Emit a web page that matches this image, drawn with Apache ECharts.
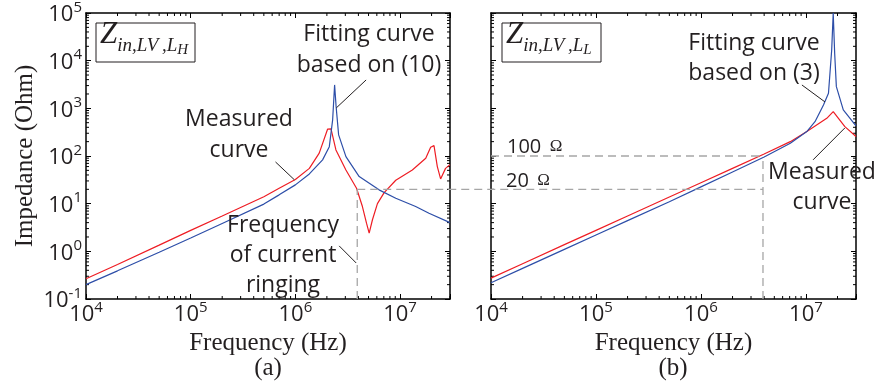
<!DOCTYPE html>
<html>
<head>
<meta charset="utf-8">
<script src="https://cdn.jsdelivr.net/npm/echarts@6.0.0/dist/echarts.min.js"></script>
<style>
  html, body { margin: 0; padding: 0; background: #fff; }
  #main { width: 877px; height: 381px; }
</style>
</head>
<body>
<div id="main"></div>
<script>
// (a) measured (red) and fitted (blue, eq. 10)
const leftMeasuredFreq = [1e4, 2e4, 5e4, 1e5, 2e5, 5e5, 7e5, 1e6, 1.36e6, 1.69e6, 2.03e6, 2.19e6, 2.44e6, 3.04e6, 3.84e6, 4.37e6, 4.78e6, 5.07e6, 5.45e6, 6.08e6, 7.05e6, 9.1e6, 1.31e7, 1.76e7, 1.96e7, 2.11e7, 2.27e7, 2.44e7, 2.72e7, 3e7];
const leftMeasured = [0.265, 0.53, 1.35, 2.75, 5.5, 14, 21, 32, 55, 115, 365, 370, 134, 51, 21, 8.7, 3.9, 2.4, 4.6, 10, 17, 31, 51, 90, 153, 165, 60, 33, 55, 66];
const leftFittedFreq = [1e4, 2e4, 5e4, 1e5, 2e5, 5e5, 7e5, 1e6, 1.36e6, 1.82e6, 2.11e6, 2.27e6, 2.37e6, 2.45e6, 2.59e6, 3.04e6, 4.07e6, 6.3e6, 9.1e6, 1.41e7, 1.89e7, 3e7];
const leftFitted = [0.2, 0.39, 0.96, 1.9, 3.85, 9.8, 15.3, 24.8, 42, 83, 157, 571, 3100, 1090, 277, 97, 37, 19.5, 13, 8.7, 6.3, 4.0];

// (b) measured (red) and fitted (blue, eq. 3)
const rightMeasuredFreq = [1e4, 2e4, 5e4, 1e5, 2e5, 5e5, 1e6, 2e6, 4e6, 7.1e6, 1.02e7, 1.58e7, 1.82e7, 2.35e7, 3e7];
const rightMeasured = [0.274, 0.55, 1.38, 2.75, 5.5, 13.8, 27.5, 55, 110, 200, 325, 617, 850, 413, 257];
const rightFittedFreq = [1e4, 2e4, 5e4, 1e5, 2e5, 5e5, 1e6, 2e6, 4e6, 7.1e6, 1.02e7, 1.22e7, 1.47e7, 1.64e7, 1.76e7, 1.82e7, 1.88e7, 1.95e7, 2.27e7, 3e7];
const rightFitted = [0.22, 0.44, 1.1, 2.2, 4.4, 11, 22.5, 46, 95, 185, 325, 525, 1175, 2075, 16750, 100000, 14000, 2850, 925, 430];

// axis ranges and reference levels
const xRange = [1e4, 3e7];
const yRange = [1e-1, 1e5];
const ringingFreq = 3.9e6;
const level20 = 20;
const level100 = 100;
const minorMul = [2, 3, 4, 5, 6, 7, 8, 9];
const xDecades = [1e4, 1e5, 1e6, 1e7];
const yDecades = [1e-1, 1, 10, 100, 1e3, 1e4];

const RED = '#ee1d24';
const BLUE = '#2d4ea8';
const TXT = '#231f20';
const SANS = '"Open Sans", sans-serif';
const SERIF = '"Liberation Serif", "Times New Roman", serif';

const xMinor = [];
xDecades.forEach(d => minorMul.forEach(m => { if (d * m <= xRange[1]) xMinor.push(d * m); }));
const yMinor = [];
yDecades.forEach(d => minorMul.forEach(m => yMinor.push(d * m)));

function pairs(xs, ys) { return xs.map((x, i) => [x, ys[i]]); }

function powLabel(v) {
  const l = Math.log10(v);
  const e = Math.round(l);
  if (Math.abs(l - e) > 1e-6) return '';
  return '{b|10}{s|' + e + '}';
}
const powRich = {
  b: { fontFamily: SANS, fontSize: 22, color: TXT, lineHeight: 26, verticalAlign: 'bottom' },
  s: { fontFamily: SANS, fontSize: 15, color: TXT, lineHeight: 15, verticalAlign: 'top' }
};

const chart = echarts.init(document.getElementById('main'), null, { renderer: 'canvas' });

function xAxisOf(grid, pos, labels) {
  return {
    type: 'log', logBase: 10, gridIndex: grid, position: pos,
    min: xRange[0], max: xRange[1],
    axisLine: { show: true, onZero: false, lineStyle: { color: '#000', width: 1.5 } },
    axisTick: { show: true, inside: true, length: 5, lineStyle: { color: '#000', width: 1 } },
    splitLine: { show: false },
    axisLabel: labels ? { show: true, formatter: powLabel, rich: powRich, margin: 1, showMinLabel: true, showMaxLabel: true, hideOverlap: false } : { show: false },
    name: labels ? 'Frequency (Hz)' : '',
    nameLocation: 'middle', nameGap: 31,
    nameTextStyle: { fontFamily: SERIF, fontSize: 25, color: TXT }
  };
}
function yAxisOf(grid, pos, labels) {
  return {
    type: 'log', logBase: 10, gridIndex: grid, position: pos,
    min: yRange[0], max: yRange[1],
    axisLine: { show: true, onZero: false, lineStyle: { color: '#000', width: 1.5 } },
    axisTick: { show: true, inside: true, length: 5, lineStyle: { color: '#000', width: 1 } },
    splitLine: { show: false },
    axisLabel: labels ? { show: true, formatter: powLabel, rich: powRich, margin: 4, showMinLabel: true, showMaxLabel: true, hideOverlap: false } : { show: false },
    name: labels ? 'Impedance (Ohm)' : '',
    nameLocation: 'middle', nameGap: 48,
    nameTextStyle: { fontFamily: SERIF, fontSize: 25, color: TXT }
  };
}

function minorSeries(xi, yi, vals, dir) {
  return {
    type: 'custom', xAxisIndex: xi, yAxisIndex: yi, silent: true, z: 3,
    data: vals.map(v => dir === 'x' ? [v, yRange[0]] : [xRange[0], v]),
    renderItem: function (params, api) {
      const len = 3;
      const st = { stroke: '#000', lineWidth: 1 };
      if (dir === 'x') {
        const v = api.value(0);
        const b = api.coord([v, yRange[0]]);
        const t = api.coord([v, yRange[1]]);
        return { type: 'group', children: [
          { type: 'line', shape: { x1: b[0], y1: b[1], x2: b[0], y2: b[1] - len }, style: st },
          { type: 'line', shape: { x1: t[0], y1: t[1], x2: t[0], y2: t[1] + len }, style: st }
        ] };
      }
      const v = api.value(1);
      const l = api.coord([xRange[0], v]);
      const r = api.coord([xRange[1], v]);
      return { type: 'group', children: [
        { type: 'line', shape: { x1: l[0], y1: l[1], x2: l[0] + len, y2: l[1] }, style: st },
        { type: 'line', shape: { x1: r[0], y1: r[1], x2: r[0] - len, y2: r[1] }, style: st }
      ] };
    }
  };
}

function lineSeries(xi, yi, data, color) {
  return {
    type: 'line', xAxisIndex: xi, yAxisIndex: yi, data: data,
    showSymbol: false, symbol: 'none', smooth: false, silent: true, z: 4,
    lineStyle: { color: color, width: 1.2 }
  };
}

chart.setOption({
  animation: false,
  backgroundColor: '#fff',
  grid: [
    { left: 86, top: 13, width: 364, height: 286 },
    { left: 491, top: 13, width: 365, height: 286 }
  ],
  xAxis: [xAxisOf(0, 'bottom', true), xAxisOf(1, 'bottom', true), xAxisOf(0, 'top', false), xAxisOf(1, 'top', false)],
  yAxis: [yAxisOf(0, 'left', true), yAxisOf(1, 'left', false), yAxisOf(0, 'right', false), yAxisOf(1, 'right', false)],
  series: [
    lineSeries(0, 0, pairs(leftMeasuredFreq, leftMeasured), RED),
    lineSeries(0, 0, pairs(leftFittedFreq, leftFitted), BLUE),
    lineSeries(1, 1, pairs(rightMeasuredFreq, rightMeasured), RED),
    lineSeries(1, 1, pairs(rightFittedFreq, rightFitted), BLUE),
    minorSeries(0, 0, xMinor, 'x'),
    minorSeries(0, 0, yMinor, 'y'),
    minorSeries(1, 1, xMinor, 'x'),
    minorSeries(1, 1, yMinor, 'y')
  ]
});

// annotations, placed through the axes of each panel
const pA = v => chart.convertToPixel({ seriesIndex: 0 }, v);
const pB = v => chart.convertToPixel({ seriesIndex: 2 }, v);

const dash = { stroke: '#a6a6a6', lineWidth: 1.3, lineDash: [8, 5] };
const lead = { stroke: '#231f20', lineWidth: 1 };
function seg(a, b, style) {
  return { type: 'line', z: 10, shape: { x1: a[0], y1: a[1], x2: b[0], y2: b[1] }, style: style };
}
function label(x, y, text, size, family, extra) {
  return { type: 'text', z: 12, x: x, y: y, style: Object.assign({
    text: text, fontFamily: family || SANS, fontSize: size || 21, fill: TXT,
    align: 'center', verticalAlign: 'middle'
  }, extra || {}) };
}
function titleBox(x, y, sub) {
  const f = { fontFamily: SERIF, fontStyle: 'italic', fill: TXT, color: TXT };
  return [
    { type: 'rect', z: 11, shape: { x: x, y: y, width: 99, height: 39 }, style: { fill: '#fff', stroke: '#231f20', lineWidth: 1 } },
    { type: 'text', z: 12, x: x + 4, y: y + 19, style: {
      text: '{z|Z}{s|in,LV\u2009,L}{h|' + sub + '}', align: 'left', verticalAlign: 'middle',
      rich: {
        z: Object.assign({ fontSize: 31, lineHeight: 32, verticalAlign: 'bottom', padding: [0, 0, 8, 0] }, f),
        s: Object.assign({ fontSize: 19, lineHeight: 20, verticalAlign: 'bottom', padding: [0, 0, 3, 0] }, f),
        h: Object.assign({ fontSize: 15, lineHeight: 16, verticalAlign: 'bottom' }, f)
      }
    } }
  ];
}

const g = [];
// dashed reference lines
g.push(seg(pA([ringingFreq, yRange[0]]), pA([ringingFreq, level20]), dash));
g.push(seg(pA([ringingFreq, level20]), pB([ringingFreq, level20]), dash));
g.push(seg(pB([xRange[0], level100]), pB([ringingFreq, level100]), dash));
g.push(seg(pB([ringingFreq, yRange[0]]), pB([ringingFreq, level100]), dash));
// leader lines
g.push(seg(pA([4.74e6, 3940]), pA([2.46e6, 1020]), lead));
g.push(seg(pA([6.46e5, 75]), pA([9.8e5, 31.6]), lead));
g.push(seg(pA([2.62e6, 1.3]), pA([3.81e6, 0.57]), lead));
g.push(seg(pB([9.16e6, 3090]), pB([1.52e7, 1360]), lead));
g.push(seg(pB([1.17e7, 83]), pB([2.35e7, 388]), lead));
// texts
g.push(label(369, 50, 'Fitting curve\nbased on (10)', 23, SANS, { lineHeight: 31 }));
g.push(label(239, 135, 'Measured\ncurve', 23, SANS, { lineHeight: 31 }));
g.push(label(283, 255, 'Frequency\nof current\nringing', 23, SANS, { lineHeight: 30 }));
g.push(label(754, 58, 'Fitting curve\nbased on (3)', 23, SANS, { lineHeight: 30 }));
g.push(label(822, 187, 'Measured\ncurve', 23, SANS, { lineHeight: 30 }));
g.push(label(507, 147, '{n|100}{o|  Ω}', 20, SANS, { align: 'left', rich: {
  n: { fontFamily: SANS, fontSize: 20, color: TXT }, o: { fontFamily: SERIF, fontSize: 17, color: TXT } } }));
g.push(label(506, 181, '{n|20}{o|  Ω}', 20, SANS, { align: 'left', rich: {
  n: { fontFamily: SANS, fontSize: 20, color: TXT }, o: { fontFamily: SERIF, fontSize: 17, color: TXT } } }));
g.push(label(268, 368, '(a)', 25, SERIF));
g.push(label(673, 368, '(b)', 25, SERIF));
titleBox(96, 23, 'H').forEach(e => g.push(e));
titleBox(502, 23, 'L').forEach(e => g.push(e));

chart.setOption({ graphic: { elements: g } });
</script>
</body>
</html>
